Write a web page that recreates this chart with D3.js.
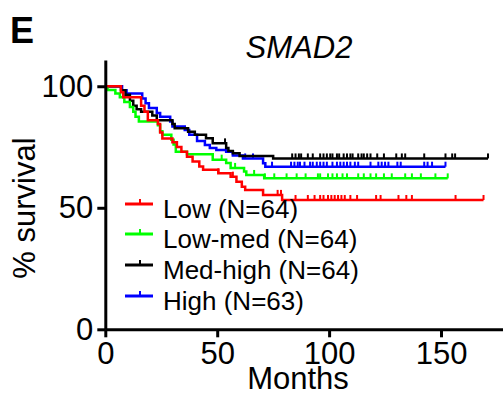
<!DOCTYPE html>
<html>
<head>
<meta charset="utf-8">
<script src="https://cdn.jsdelivr.net/npm/d3@7"></script>
<style>
body { margin: 0; background: #fff; }
svg { display: block; font-family: "Liberation Sans", Arial, sans-serif; }
</style>
</head>
<body>
<svg></svg>
<script>
const width = 503;
const height = 396;

// groups, in legend order
const groupNames = ["Low (N=64)", "Low-med (N=64)", "Med-high (N=64)", "High (N=63)"];
const groupColors = ["#ff0000", "#00ff00", "#000000", "#0000ff"];

// [month, % survival] at each drop
const lowSteps = [[0,100],[7,97.5],[8,95.5],[16,92],[17.5,89.5],[19,86],[23.5,84.5],[24.5,81],[25.5,78.5],[30,77],[32,75],[34,73],[36.5,71],[39,69],[42,67],[43.7,65.6],[50.5,64.2],[56,62.8],[58.6,60.7],[61,58.7],[62.5,57.3],[70.5,55.3],[79,53.2]];
const lowMedSteps = [[0,100],[1,98.5],[4.5,97],[6.5,95.5],[8.5,93.5],[11,91.5],[12.5,89.5],[13.5,87.5],[15,85.5],[23.5,84],[24.5,81.5],[25.5,80],[29.5,78],[30.5,76],[31.5,73],[36.5,72],[48,69.8],[54,68.4],[56,66.4],[62,64.9],[63,63.5],[71,62.1]];
const medHighSteps = [[0,100],[7,98.4],[9,96.5],[11,94],[12.5,92],[14,90.5],[16,89.5],[21,88],[23,86],[30,84.5],[31,82.7],[37,81.3],[40,80],[45,78.6],[48,76.5],[54,74.6],[55,73.4],[57,72.4],[60,71.3],[75,70.3]];
const highSteps = [[0,100],[7.5,98.4],[9.5,97],[16.5,95],[18,93],[19.5,91],[23,89],[24.5,87.5],[29,85.5],[30,83.4],[35.5,82],[37.5,80],[41,77.5],[44.5,75.8],[46.7,74.6],[49.6,73.8],[54,73],[57,71.5],[61.5,70.3],[70.5,68.3],[71.5,66.9]];

// censored months (tick marks); the last one is the end of the curve
const lowCensor = [50.5,57,77,78.5,85,90.5,93.5,96,97.5,99.5,101,102.5,104,105.5,107,109.5,112.5,121,123,131,134.5,137,156.5,169];
const lowMedCensor = [52,58,66.5,71.3,75.5,81,85.5,89.5,95,96,99.5,101.5,103.5,106,108,113,115.5,118.5,121,124.5,128,134,137,141,147.5,153];
const medHighCensor = [53.5,83.5,85,86.5,87.5,90.5,92.7,96,97.5,99,100.5,101.5,103.5,104.5,106.5,108,109.5,110.5,113,114.5,115.5,117,118.5,121.5,124.5,130,132.5,134,142.5,152,155,156.3,171];
const highCensor = [57,62.5,66,74.5,83,84.5,86,87,89,91.5,92.7,94.5,96,97.5,99,101.5,103.5,105,106.5,108,109.5,111.5,113,118.5,122,123.5,125,126.5,130.5,132,142.5,144,146,152];

const xTicks = [0, 50, 100, 150];
const yTicks = [0, 50, 100];

const series = [
  { name: groupNames[0], color: groupColors[0], steps: lowSteps, censor: lowCensor },
  { name: groupNames[1], color: groupColors[1], steps: lowMedSteps, censor: lowMedCensor },
  { name: groupNames[2], color: groupColors[2], steps: medHighSteps, censor: medHighCensor },
  { name: groupNames[3], color: groupColors[3], steps: highSteps, censor: highCensor }
];

const x = d3.scaleLinear().domain([0, 177.7]).range([105.3, 503]);
const y = d3.scaleLinear().domain([0, 110.8]).range([329.3, 60]);

const svg = d3.select('svg')
  .attr('width', width)
  .attr('height', height);

function survAt(steps, t) {
  let v = steps[0][1];
  steps.forEach(s => { if (s[0] <= t) v = s[1]; });
  return v;
}

const line = d3.line()
  .x(d => x(d[0]))
  .y(d => y(d[1]))
  .curve(d3.curveStepAfter);

// curves, drawn so red ends up on top
const curves = svg.append('g');
series.slice().reverse().forEach(s => {
  const end = d3.max(s.censor);
  const pts = s.steps.concat([[end, s.steps[s.steps.length - 1][1]]]);
  curves.append('path')
    .attr('d', line(pts))
    .attr('fill', 'none')
    .attr('stroke', s.color)
    .attr('stroke-width', 2.5);
  curves.selectAll(null)
    .data(s.censor)
    .enter().append('line')
      .attr('x1', d => x(d))
      .attr('x2', d => x(d))
      .attr('y1', d => y(survAt(s.steps, d)))
      .attr('y2', d => y(survAt(s.steps, d)) - 5)
      .attr('stroke', s.color)
      .attr('stroke-width', 2);
});

// axes
const xAxis = svg.append('g')
  .attr('transform', `translate(0,${y(0)})`)
  .call(d3.axisBottom(x).tickValues(xTicks).tickSize(8).tickPadding(5).tickSizeOuter(0));
const yAxis = svg.append('g')
  .attr('transform', `translate(${x(0)},0)`)
  .call(d3.axisLeft(y).tickValues(yTicks).tickSize(8).tickPadding(4).tickSizeOuter(0));

[xAxis, yAxis].forEach(a => {
  a.select('.domain').attr('stroke', '#000').attr('stroke-width', 3);
  a.selectAll('.tick line').attr('stroke', '#000').attr('stroke-width', 3);
  a.selectAll('.tick text')
    .attr('fill', '#000')
    .attr('font-size', 31)
    .attr('font-family', '"Liberation Sans", Arial, sans-serif');
});

// titles
svg.append('text')
  .attr('x', 10).attr('y', 43)
  .attr('font-size', 36).attr('font-weight', 'bold')
  .text('E');

svg.append('text')
  .attr('x', 299).attr('y', 58)
  .attr('text-anchor', 'middle')
  .attr('font-size', 31).attr('font-style', 'italic')
  .text('SMAD2');

svg.append('text')
  .attr('x', 298).attr('y', 389)
  .attr('text-anchor', 'middle')
  .attr('font-size', 31)
  .text('Months');

svg.append('text')
  .attr('transform', 'translate(35,208) rotate(-90)')
  .attr('text-anchor', 'middle')
  .attr('font-size', 31)
  .text('% survival');

// legend
const legendY = [204, 234, 265, 296];
const legend = svg.append('g')
  .selectAll('g')
  .data(series)
  .enter().append('g')
    .attr('transform', (d, i) => `translate(0,${legendY[i]})`);
legend.append('line')
  .attr('x1', 125).attr('x2', 153)
  .attr('stroke', d => d.color).attr('stroke-width', 3);
legend.append('line')
  .attr('x1', 140).attr('x2', 140).attr('y1', 0).attr('y2', -5)
  .attr('stroke', d => d.color).attr('stroke-width', 2);
legend.append('text')
  .attr('x', 163).attr('y', 14)
  .attr('font-size', 26)
  .text(d => d.name);
</script>
</body>
</html>
